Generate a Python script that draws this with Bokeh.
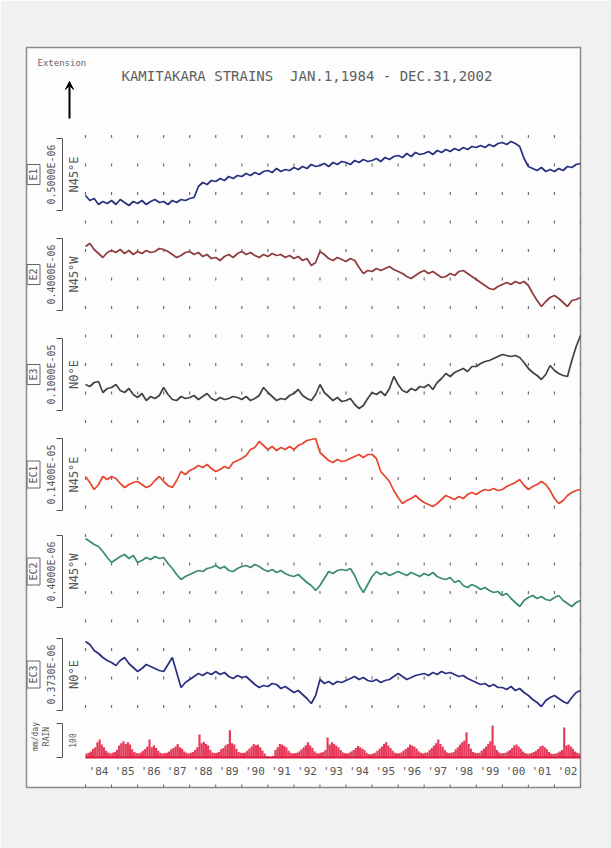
import numpy as np
from math import pi
from bokeh.plotting import figure
from bokeh.models import Range1d, Arrow, VeeHead
from bokeh.core.properties import value
from bokeh.embed import file_html
from bokeh.resources import INLINE

# ---------------- data ----------------
TITLE = "KAMITAKARA STRAINS\u00a0\u00a0JAN.1,1984 - DEC.31,2002"
START_YEAR = 1984
END_YEAR = 2003
YEAR_LABELS = ["'84", "'85", "'86", "'87", "'88", "'89", "'90", "'91", "'92", "'93",
               "'94", "'95", "'96", "'97", "'98", "'99", "'00", "'01", "'02"]
SAMPLES_PER_YEAR = 6  # strain readings every two months

SERIES_NAMES = ["E1", "E2", "E3", "EC1", "EC2", "EC3"]
SCALE_LABELS = ["0.5000E-06", "0.4000E-06", "0.1000E-05", "0.1400E-05", "0.4000E-06", "0.3730E-06"]
DIRECTIONS = ["N45\u00b0E", "N45\u00b0W", "N0\u00b0E", "N45\u00b0E", "N45\u00b0W", "N0\u00b0E"]

# relative strain (72 units = one scale bar), extension upward
E1 = [-21, -26, -24, -30, -27, -29,
      -26, -30, -25, -28, -31, -27,
      -29, -26, -30, -27, -25, -28,
      -27, -30, -26, -28, -25, -26,
      -24, -23, -12, -8, -10, -6,
      -7, -4, -6, -2, -4, -1,
      -2, 1, -1, 2, 0, 3,
      4, 2, 6, 3, 5, 4,
      7, 5, 8, 6, 10, 8,
      9, 11, 8, 12, 10, 13,
      12, 10, 14, 12, 15, 13,
      14, 16, 13, 17, 15, 18,
      19, 17, 21, 18, 22, 20,
      21, 23, 20, 24, 22, 25,
      23, 26, 24, 27, 25, 28,
      27, 29, 27, 30, 28, 31,
      32, 30, 33, 31, 28, 16,
      8, 6, 4, 7, 3, 5,
      3, 6, 4, 8, 7, 10,
      11]

E2 = [27, 30, 24, 20, 16, 21,
      23, 21, 24, 20, 23, 19,
      22, 20, 23, 21, 22, 25,
      24, 22, 19, 16, 18, 21,
      22, 19, 21, 17, 19, 15,
      16, 13, 17, 19, 16, 20,
      22, 19, 21, 18, 16, 19,
      17, 20, 18, 19, 16, 18,
      15, 17, 13, 15, 8, 11,
      22, 19, 15, 13, 16, 14,
      12, 15, 13, 6, 0, 3,
      2, 5, 3, 5, 7, 4,
      2, 0, -3, -5, -2, 1,
      3, 0, 2, -1, -4, -3,
      0, -2, 2, 3, 0, -3,
      -6, -9, -12, -15, -16, -13,
      -11, -9, -11, -8, -10, -8,
      -12, -20, -27, -33, -28, -24,
      -22, -25, -29, -33, -27, -26,
      -24]

E3 = [-11, -13, -9, -8, -19, -15,
      -14, -11, -17, -19, -15, -21,
      -24, -20, -27, -23, -25, -22,
      -14, -21, -26, -27, -23, -25,
      -24, -22, -26, -23, -20, -25,
      -27, -24, -26, -25, -23, -24,
      -26, -23, -27, -25, -22, -14,
      -19, -23, -27, -25, -26, -22,
      -20, -16, -22, -25, -27, -21,
      -11, -19, -23, -27, -24, -28,
      -27, -25, -31, -35, -32, -25,
      -19, -21, -18, -22, -15, -3,
      -11, -17, -19, -15, -17, -13,
      -14, -11, -16, -9, -5, 0,
      -3, 1, 3, 5, 2, 7,
      7, 10, 12, 13, 15, 17,
      19, 18, 17, 18, 16, 11,
      5, 1, -2, -6, -1, 8,
      3, 0, -2, -3, 13, 27,
      38]

EC1 = [-2, -8, -15, -10, -2, -5,
       -2, -4, -9, -13, -10, -8,
       -7, -10, -13, -11, -6, -2,
       -7, -11, -13, -6, 3, 0,
       4, 6, 9, 7, 10, 6,
       3, 5, 8, 6, 12, 14,
       16, 19, 25, 27, 33, 29,
       25, 28, 24, 27, 25, 28,
       25, 29, 31, 34, 35, 36,
       22, 18, 14, 12, 15, 13,
       14, 16, 18, 20, 17, 20,
       20, 16, 3, -2, -7, -16,
       -23, -29, -26, -24, -21, -25,
       -28, -30, -32, -29, -25, -21,
       -23, -25, -22, -24, -20, -18,
       -20, -17, -15, -16, -14, -16,
       -15, -12, -10, -8, -5, -11,
       -15, -12, -10, -7, -10, -16,
       -24, -29, -26, -21, -18, -16,
       -15]

EC2 = [33, 30, 27, 25, 20, 14,
       9, 12, 15, 17, 13, 16,
       9, 11, 14, 12, 15, 13,
       14, 8, 3, -3, -8, -5,
       -3, -1, 1, 0, 3, 4,
       6, 3, 5, 1, 0, 3,
       5, 6, 4, 7, 5, 2,
       0, 2, -1, 1, -2, -4,
       -5, -3, -7, -11, -14, -19,
       -14, -7, 0, -2, 1, 2,
       1, 3, -4, -14, -21, -13,
       -5, 0, -3, -1, -4, -2,
       0, -2, -4, -1, -3, -5,
       -2, -4, -1, -5, -7, -8,
       -6, -11, -9, -14, -16, -13,
       -15, -18, -16, -19, -21, -20,
       -24, -22, -27, -31, -35, -29,
       -26, -24, -27, -25, -28, -29,
       -26, -24, -29, -32, -35, -31,
       -29]

EC3 = [32, 29, 23, 20, 16, 13,
       11, 8, 13, 16, 10, 6,
       2, 5, 9, 7, 5, 3,
       2, 9, 16, 1, -14, -9,
       -6, -3, 0, -2, 1, -1,
       2, -1, 1, -3, -5, -2,
       -4, -3, -7, -11, -14, -12,
       -13, -10, -11, -15, -13, -16,
       -19, -17, -21, -25, -30, -22,
       -6, -10, -8, -11, -8, -9,
       -7, -5, -3, -6, -4, -7,
       -8, -6, -9, -7, -6, -3,
       0, -3, -6, -4, -2, -1,
       0, -2, 1, -1, 2, 0,
       1, -1, -3, -2, -5, -7,
       -9, -11, -10, -13, -11, -14,
       -14, -16, -13, -17, -15, -19,
       -22, -26, -29, -33, -27, -24,
       -22, -25, -28, -30, -24, -19,
       -17]

# monthly precipitation peaks (mm/day), Jan..Dec for each year
RAIN_MM = [12, 14, 18, 25, 30, 45, 53, 38, 30, 20, 15, 12,
           14, 16, 22, 35, 42, 48, 40, 45, 38, 24, 16, 13,
           12, 15, 20, 25, 32, 53, 30, 35, 28, 20, 14, 12,
           13, 14, 18, 24, 28, 32, 40, 30, 26, 18, 14, 12,
           14, 16, 22, 30, 68, 42, 46, 40, 35, 22, 15, 13,
           14, 16, 24, 28, 35, 40, 80, 42, 38, 26, 16, 14,
           13, 15, 20, 26, 32, 40, 36, 38, 30, 20, 12, 4,
           3, 2, 5, 22, 30, 40, 38, 34, 30, 20, 14, 12,
           13, 14, 18, 24, 30, 36, 45, 35, 28, 18, 13, 12,
           14, 16, 22, 59, 38, 45, 40, 35, 30, 22, 15, 13,
           12, 14, 18, 22, 28, 34, 30, 26, 22, 14, 10, 9,
           12, 14, 20, 26, 32, 40, 45, 35, 28, 20, 14, 12,
           13, 15, 20, 25, 30, 38, 35, 32, 26, 18, 14, 12,
           14, 15, 22, 28, 35, 42, 53, 40, 32, 22, 15, 13,
           14, 16, 24, 30, 38, 45, 50, 74, 40, 26, 16, 14,
           13, 14, 20, 26, 32, 40, 48, 94, 35, 22, 15, 12,
           13, 14, 18, 22, 28, 35, 38, 32, 26, 18, 13, 11,
           12, 13, 16, 20, 25, 32, 35, 30, 24, 16, 12, 10,
           12, 14, 18, 22, 88, 35, 38, 32, 26, 18, 14, 12]
RAIN_SCALE_MM = 100
RAIN_LABELS = ["mm/day", "RAIN", "100"]

# ---------------- layout / style ----------------
W, H = 611, 848
OFF = 0
BOX_L, BOX_R, BOX_T, BOX_B = 26, 580, 47, 787
X84 = 85
PPY = (BOX_R - X84) / (END_YEAR - START_YEAR)
X0 = START_YEAR - (X84 - BOX_L) / PPY
X1 = X0 + (BOX_R - BOX_L) / PPY


def xp(px):
    return X0 + (px - BOX_L) / PPY


BRACKET = 72
PANEL_TOPS = [138, 238, 338, 438, 535, 638]
PANEL_REFS = [174, 273, 373, 474, 571, 673]
COLORS = ["#26307e", "#8e3a3a", "#424242", "#e8452e", "#3b8c68", "#2a2f80"]
RAIN_BASE = 757
RAIN_BRACKET = 34
RAIN_COLOR = "#e2173d"
TEXT_COLOR = "#555555"
MONO = value("DejaVu Sans Mono")

p = figure(width=W, height=H, output_backend="svg", toolbar_location=None,
           x_range=Range1d(X0, X1), y_range=Range1d(BOX_B, BOX_T),
           x_axis_location=None, y_axis_location=None, min_border=0)
p.min_border_left = BOX_L - OFF
p.min_border_top = BOX_T - OFF
p.min_border_right = W - (BOX_L - OFF) - (BOX_R - BOX_L)
p.min_border_bottom = H - (BOX_T - OFF) - (BOX_B - BOX_T)
p.grid.visible = False
p.outline_line_color = "#8a8a8a"
p.outline_line_width = 1.5
p.background_fill_color = "#fdfdfd"
p.border_fill_color = "#f1f1f1"

ranges = {}
for i, r in enumerate(PANEL_REFS):
    ranges[f"p{i}"] = Range1d(start=-(BOX_B - r), end=(r - BOX_T))
ppmm = RAIN_BRACKET / RAIN_SCALE_MM
ranges["rain"] = Range1d(start=-(BOX_B - RAIN_BASE) / ppmm, end=(RAIN_BASE - BOX_T) / ppmm)
p.extra_y_ranges = ranges

# dotted grid
years = np.arange(START_YEAR, END_YEAR + 1)
rows = [136 + 28.5 * k for k in range(21)]
gx = [y for _ in rows for y in years]
gy = [r for r in rows for _ in years]
p.scatter(gx, gy, marker="dash", angle=pi / 2, size=3, line_color="#6e6e6e", line_width=1.2)

# strain traces
for i, vals in enumerate([E1, E2, E3, EC1, EC2, EC3]):
    t = START_YEAR + np.arange(len(vals)) / SAMPLES_PER_YEAR
    p.line(t, vals, y_range_name=f"p{i}", line_color=COLORS[i], line_width=1.7)

# rainfall
mt = START_YEAR + (np.arange(len(RAIN_MM)) + 0.5) / 12
p.vbar(x=mt, width=1 / 12, top=RAIN_MM, bottom=0, y_range_name="rain",
       fill_color=RAIN_COLOR, fill_alpha=0.85, line_color=None)
p.segment(x0=[START_YEAR], y0=[0], x1=[END_YEAR], y1=[0], y_range_name="rain",
          line_color=RAIN_COLOR, line_width=2)

# panel labels
centers = [t0 + BRACKET / 2 for t0 in PANEL_TOPS]
box_h = [len(n) * 7 + 6 for n in SERIES_NAMES]
p.rect(x=[xp(33)] * 6, y=centers, width=[13 / PPY] * 6, height=box_h,
       fill_color=None, line_color="#666666", line_width=1)
p.text(x=[xp(33)] * 6, y=centers, text=SERIES_NAMES, angle=pi / 2,
       text_align="center", text_baseline="middle", text_font=MONO,
       text_font_size="10px", text_color=TEXT_COLOR)
p.text(x=[xp(51)] * 6, y=centers, text=SCALE_LABELS, angle=pi / 2,
       text_align="center", text_baseline="middle", text_font=MONO,
       text_font_size="10px", text_color=TEXT_COLOR)
p.text(x=[xp(73)] * 6, y=centers, text=DIRECTIONS, angle=pi / 2,
       text_align="center", text_baseline="middle", text_font=MONO,
       text_font_size="12px", text_color=TEXT_COLOR)
bx = xp(62)
bl = xp(56)
tops = PANEL_TOPS + [RAIN_BASE - RAIN_BRACKET]
bots = [t0 + BRACKET for t0 in PANEL_TOPS] + [RAIN_BASE]
p.segment(x0=[bx] * 7, y0=tops, x1=[bx] * 7, y1=bots, line_color="#555555", line_width=1)
p.segment(x0=[bl] * 14, y0=tops + bots, x1=[bx] * 14, y1=tops + bots,
          line_color="#555555", line_width=1)

# rain labels
rc = RAIN_BASE - RAIN_BRACKET / 2
p.text(x=[xp(35), xp(46), xp(72)], y=[rc - 4, rc - 4, rc], text=RAIN_LABELS, angle=pi / 2,
       text_align="center", text_baseline="middle", text_font=MONO,
       text_font_size="8px", text_color=TEXT_COLOR)

# bottom year axis
p.segment(x0=years, y0=[784] * len(years), x1=years, y1=[791] * len(years),
          line_color="#666666", line_width=1)
p.text(x=np.arange(START_YEAR, END_YEAR) + 0.5, y=[771] * len(YEAR_LABELS), text=YEAR_LABELS,
       text_align="center", text_baseline="middle", text_font=MONO,
       text_font_size="11px", text_color=TEXT_COLOR)

# title, extension arrow
p.text(x=[xp(121)], y=[75], text=[TITLE], text_align="left", text_baseline="middle",
       text_font=MONO, text_font_size="14px", text_color="#606060")
p.text(x=[xp(37)], y=[62], text=["Extension"], text_align="left", text_baseline="middle",
       text_font=MONO, text_font_size="9px", text_color="#666666")
p.add_layout(Arrow(x_start=xp(69), y_start=118, x_end=xp(69), y_end=81,
                   line_color="black", line_width=2,
                   end=VeeHead(size=8, fill_color="black", line_color="black")))

open("out.html", "w").write(file_html(p, INLINE))
